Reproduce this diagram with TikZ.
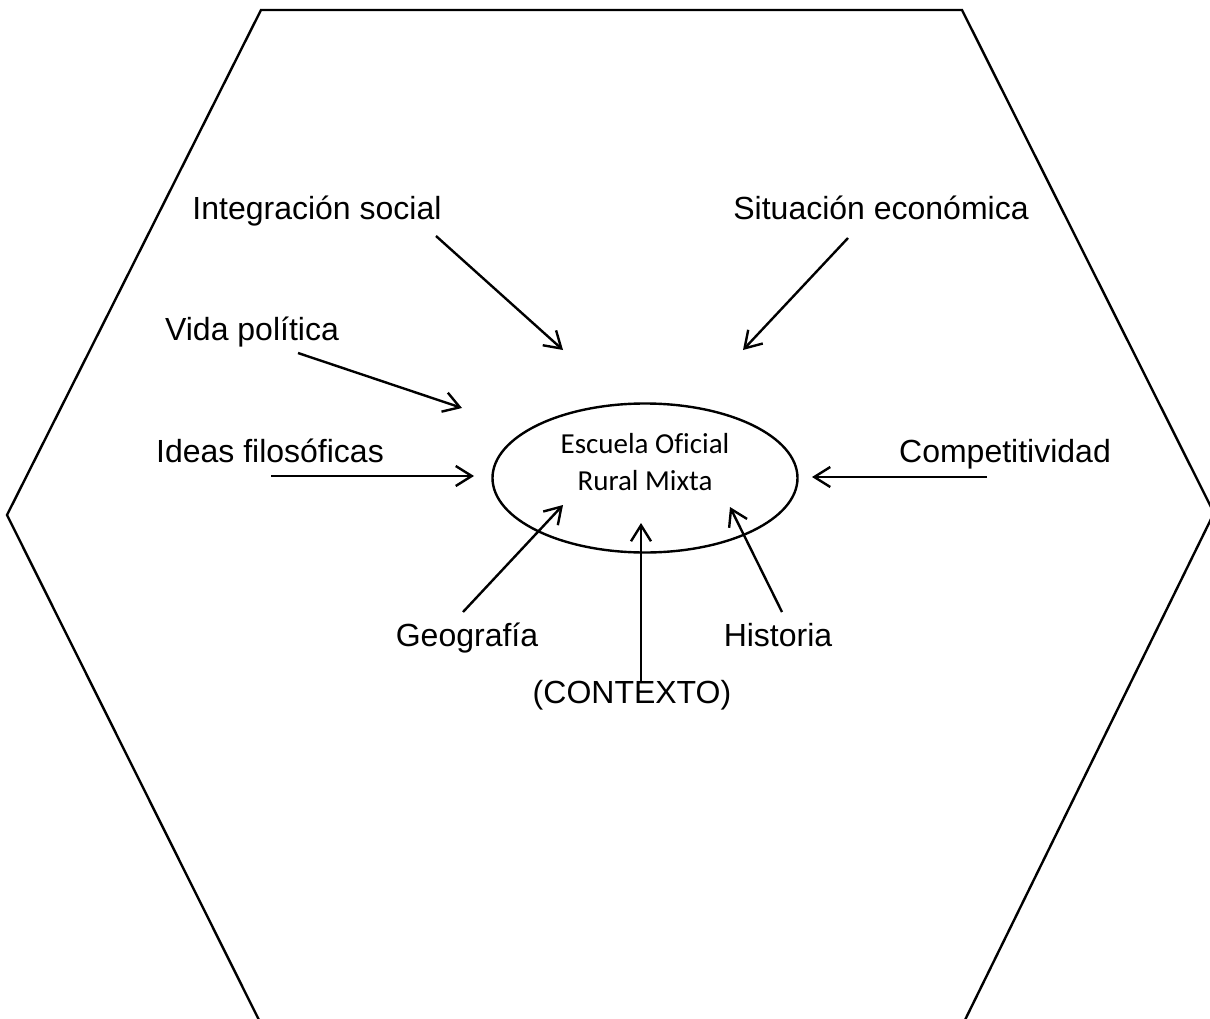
\documentclass[tikz,border=0pt]{standalone}
\usepackage{fontspec}
\setmainfont{Liberation Sans}
\newfontfamily\calibri[Ligatures=NoCommon]{Carlito}
\usetikzlibrary{arrows.meta,shapes.geometric}
\begin{document}
\begin{tikzpicture}[x=1pt,y=-1pt,
  lbl/.style={anchor=base,inner sep=0pt,font=\fontsize{32}{38}\selectfont},
  inlbl/.style={anchor=base,inner sep=0pt,font=\calibri\fontsize{29}{34}\selectfont},
  arr/.style={line width=2.4pt,-{Straight Barb[length=16pt,width=20pt,line width=2.4pt]}},
  hexline/.style={line width=2.4pt,line join=miter}]
\useasboundingbox (0,0) rectangle (1210,1019);
\begin{scope}
\clip (0,0) rectangle (1210,1019);
\draw[hexline] (261,10) -- (962,10) -- (1214,513) -- (964,1022) -- (260,1022) -- (7,515) -- cycle;
\end{scope}
% central ellipse
\node[draw,ellipse,line width=2.4pt,minimum width=305pt,minimum height=149pt,inner sep=0pt] (school) at (645,478) {};
\node[inlbl] (school1) at (645,453) {Escuela Oficial};
\node[inlbl] (school2) at (645,490) {Rural Mixta};
% labels
\node[lbl] (integ) at (317,219) {Integración social};
\node[lbl] (sit) at (881,219) {Situación económica};
\node[lbl] (vida) at (252,340) {Vida política};
\node[lbl] (ideas) at (270,462) {Ideas filosóficas};
\node[lbl] (comp) at (1005,462) {Competitividad};
\node[lbl] (geo) at (467,646) {Geografía};
\node[lbl] (hist) at (778,646) {Historia};
\node[lbl] (ctx) at (632,703) {(CONTEXTO)};
% arrow coordinates
\coordinate (integS) at (436,236); \coordinate (integE) at (563,350);
\coordinate (sitS) at (848,238);   \coordinate (sitE) at (743,350);
\coordinate (vidaS) at (298,353);  \coordinate (vidaE) at (462,408);
\coordinate (ideasS) at (271,476); \coordinate (ideasE) at (474,476);
\coordinate (compS) at (987,477);  \coordinate (compE) at (812,477);
\coordinate (geoS) at (463,612);   \coordinate (geoE) at (563,505);
\coordinate (ctxS) at (641,683);   \coordinate (ctxE) at (641,523);
\coordinate (histS) at (782,612);  \coordinate (histE) at (730,507);
\draw[arr] (integS) -- (integE);
\draw[arr] (sitS) -- (sitE);
\draw[arr] (vidaS) -- (vidaE);
\draw[arr] (ideasS) -- (ideasE);
\draw[arr] (compS) -- (compE);
\draw[arr] (geoS) -- (geoE);
\draw[arr] (ctxS) -- (ctxE);
\draw[arr] (histS) -- (histE);
\end{tikzpicture}
\end{document}
